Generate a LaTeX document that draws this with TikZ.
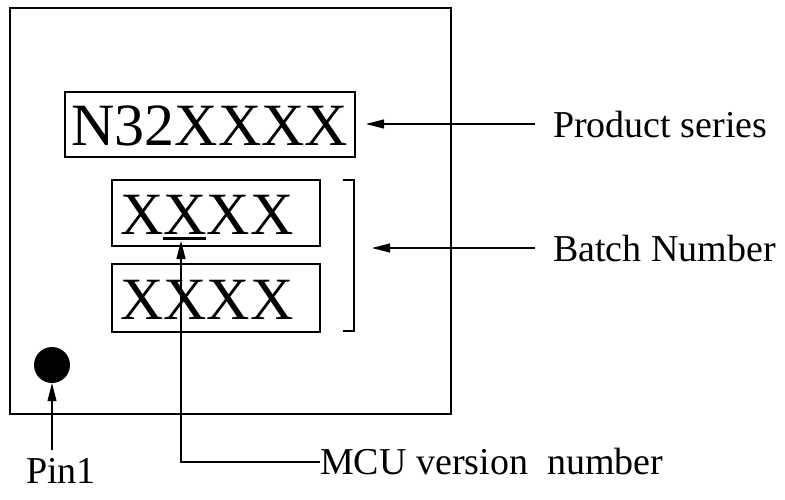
\documentclass[tikz,border=0pt]{standalone}
\usepackage{fontspec}
\setmainfont{Liberation Serif}
\usetikzlibrary{arrows.meta}
\begin{document}
\begin{tikzpicture}[x=1pt,y=-1pt,
  box/.style={draw,line width=1.1pt,inner sep=0pt},
  lbl/.style={inner sep=0pt,font=\fontsize{38}{40}\selectfont},
  big/.style={inner sep=0pt,font=\fontsize{60}{62}\selectfont},
  conn/.style={line width=1.1pt,-{Triangle[length=18pt,width=9pt]}},
  plain/.style={line width=1.1pt}]
\useasboundingbox (0,0) rectangle (785,499);
\draw[plain] (10,8) rectangle (451,414);
% product series box
\node[box,minimum width=290pt,minimum height=65pt] (ps) at (210,124.5) {};
\node[big] (pstext) at (210,126) {N32XXXX};
\node[box,minimum width=208pt,minimum height=66pt] (b1) at (216,213) {};
\node[big] (b1text) at (207,215) {XXXX};
\node[box,minimum width=208pt,minimum height=68pt] (b2) at (216,298) {};
\node[big] (b2text) at (207,300) {XXXX};
\draw[line width=3pt] (163,238) -- (206,238);
% bracket
\coordinate (brt) at (343,180);
\coordinate (brb) at (343,331);
\draw[plain] (brt) -- (354,180) -- (354,331) -- (brb);
% labels
\node[lbl,anchor=base west] (pslab) at (553,137) {Product series};
\node[lbl,anchor=base west] (bnlab) at (553,261) {Batch Number};
\node[lbl,anchor=base west] (mculab) at (320,474) {MCU version\ \ number};
\node[lbl,anchor=base] (pinlab) at (61,483) {Pin1};
\coordinate (psend) at (535,124);
\coordinate (pstip) at (366,124);
\draw[conn] (psend) -- (pstip);
\coordinate (bnend) at (535,248);
\coordinate (bntip) at (372,248);
\draw[conn] (bnend) -- (bntip);
\coordinate (mcutip) at (181,241);
\draw[conn] (mculab.west |- 0,462) -- (181,462) -- (mcutip);
\node[circle,fill,minimum size=36pt,inner sep=0pt] (pin) at (52,365) {};
\coordinate (pinend) at (52,450);
\draw[conn] (pinend) -- (pin.south);
\end{tikzpicture}
\end{document}
